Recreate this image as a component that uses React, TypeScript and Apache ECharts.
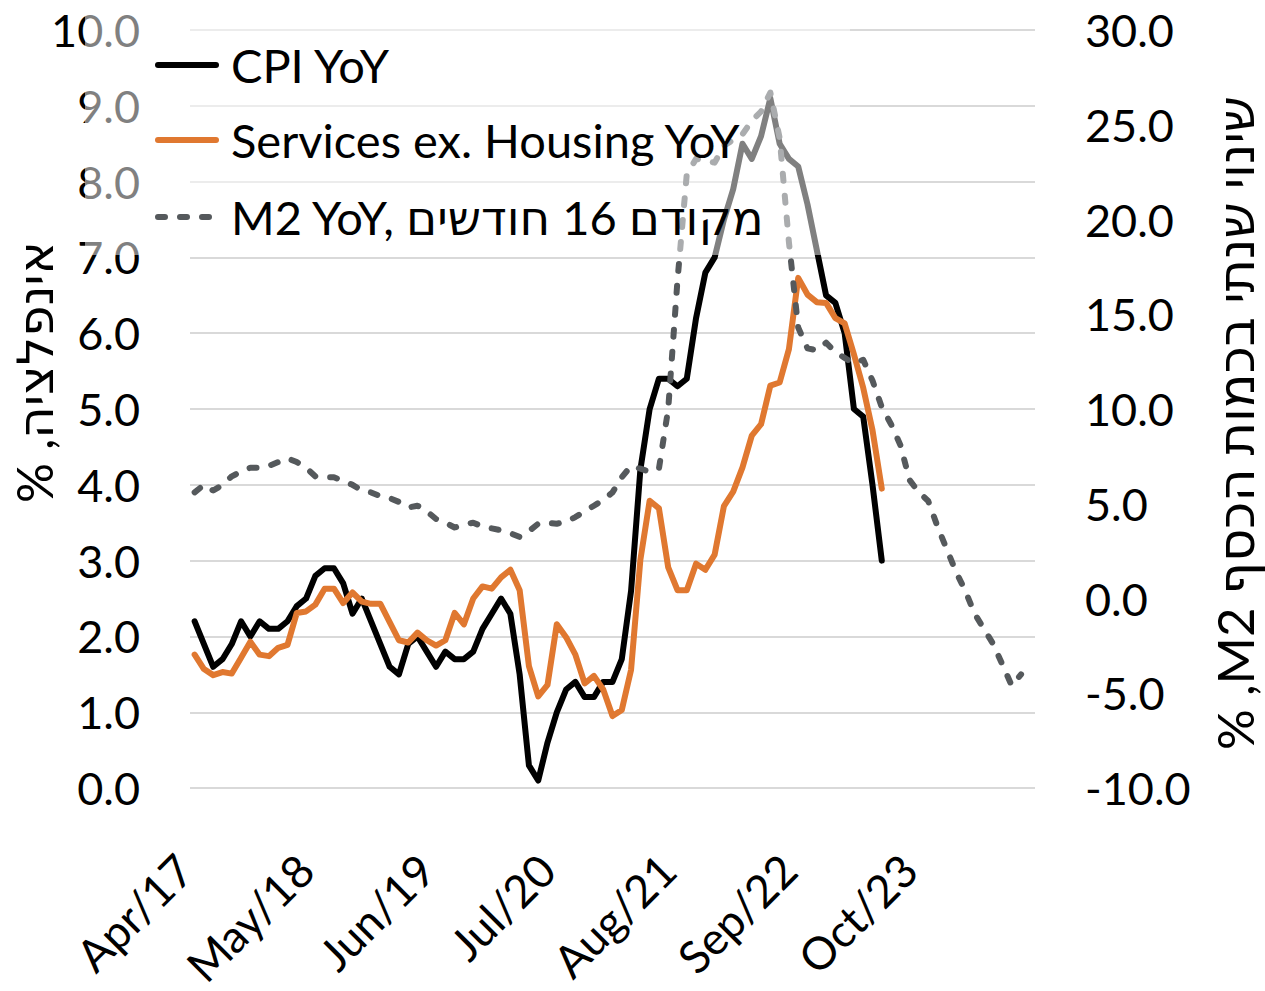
import React, { useEffect, useRef } from "react";
import * as echarts from "echarts";

const MONTHS = ["Jan", "Feb", "Mar", "Apr", "May", "Jun", "Jul", "Aug", "Sep", "Oct", "Nov", "Dec"];
// Monthly categories Apr/17 .. Oct/24
const categories: string[] = [];
for (let k = 0; k < 91; k++) {
  const m = (3 + k) % 12;
  const y = 17 + Math.floor((3 + k) / 12);
  categories.push(`${MONTHS[m]}/${y}`);
}

// CPI YoY, % (Apr/17 .. Jun/23)
const cpiYoY = [
  2.2, 1.9, 1.6, 1.7, 1.9, 2.2, 2.0, 2.2, 2.1,
  2.1, 2.2, 2.4, 2.5, 2.8, 2.9, 2.9, 2.7, 2.3, 2.5, 2.2, 1.9,
  1.6, 1.5, 1.9, 2.0, 1.8, 1.6, 1.8, 1.7, 1.7, 1.8, 2.1, 2.3,
  2.5, 2.3, 1.5, 0.3, 0.1, 0.6, 1.0, 1.3, 1.4, 1.2, 1.2, 1.4,
  1.4, 1.7, 2.6, 4.2, 5.0, 5.4, 5.4, 5.3, 5.4, 6.2, 6.8, 7.0,
  7.5, 7.9, 8.5, 8.3, 8.6, 9.1, 8.5, 8.3, 8.2, 7.7, 7.1, 6.5,
  6.4, 6.0, 5.0, 4.9, 4.0, 3.0,
];

// Services ex. Housing YoY, % (Apr/17 .. Jun/23)
const servicesExHousing = [
  1.76, 1.57, 1.49, 1.53, 1.51, 1.72, 1.93, 1.76, 1.74, 1.85,
  1.89, 2.31, 2.33, 2.42, 2.63, 2.63, 2.44, 2.58, 2.46, 2.43,
  2.43, 2.19, 1.95, 1.92, 2.05, 1.95, 1.88, 1.95, 2.31, 2.16,
  2.50, 2.66, 2.63, 2.78, 2.88, 2.61, 1.61, 1.21, 1.36, 2.16,
  1.99, 1.76, 1.38, 1.48, 1.30, 0.95, 1.03, 1.56, 3.01, 3.79,
  3.69, 2.91, 2.61, 2.61, 2.96, 2.88, 3.08, 3.72, 3.91, 4.23,
  4.65, 4.80, 5.31, 5.35, 5.79, 6.73, 6.51, 6.41, 6.40, 6.20,
  6.13, 5.72, 5.28, 4.72, 3.95,
];

// M2 YoY, % led 16 months (right axis), Apr/17 .. Sep/24
const m2YoYLed = [
  5.6, 6.0, 5.7, 6.0, 6.45, 6.7, 6.9, 6.9, 7.0, 7.2,
  7.4, 7.2, 6.9, 6.45, 6.4, 6.4, 6.2, 6.0, 5.7, 5.6,
  5.4, 5.3, 5.1, 4.8, 4.9, 4.6, 4.2, 4.0, 3.75, 3.9,
  4.0, 3.8, 3.7, 3.6, 3.45, 3.25, 3.55, 3.95, 4.0, 3.95,
  4.05, 4.3, 4.6, 4.9, 5.2, 5.6, 6.4, 7.0, 6.85, 6.7,
  6.85, 10.0, 16.8, 22.4, 23.2, 23.1, 23.0, 23.9, 24.2, 24.5,
  25.2, 25.7, 26.7, 24.3, 18.8, 14.3, 13.2, 13.1, 13.5, 13.0,
  12.7, 12.4, 12.6, 11.5, 10.1, 9.2, 8.1, 6.25, 5.6, 5.15,
  3.8, 2.6, 1.4, 0.4, -0.8, -1.6, -2.4, -3.5, -4.6, -4.0,
];

const legendLabels = ["CPI YoY", "Services ex. Housing YoY", "M2 YoY, מקודם 16 חודשים"];
const leftTitle = "\u202Bאינפלציה, %\u202C";
const rightTitle = "\u202Bשינוי שנתי בכמות הכסף M2, %\u202C";

const FONT = "Lato, 'DejaVu Sans', sans-serif";
const BLACK = "#000000";
const ORANGE = "#E07830";
const GREY = "#55595C";
const LW = 6;
const DASH = [7, 15];

export default function App() {
  const ref = useRef<HTMLDivElement>(null);
  useEffect(() => {
    if (!ref.current) return;
    const chart = echarts.init(ref.current, undefined, { renderer: "svg" });
    const legendColors = [BLACK, ORANGE, GREY];
    const legendY = [65, 140, 217];
    const legendGraphics: any[] = [];
    legendLabels.forEach((label, i) => {
      legendGraphics.push({
        type: "line",
        z: 101,
        shape: { x1: 158, y1: legendY[i], x2: 216, y2: legendY[i] },
        style: {
          stroke: legendColors[i],
          lineWidth: LW,
          lineCap: "round",
          lineDash: i === 2 ? DASH : null,
        },
      });
      legendGraphics.push({
        type: "text",
        z: 101,
        x: 231,
        y: legendY[i],
        style: {
          text: label,
          font: `47px ${FONT}`,
          fill: "#000",
          align: "left",
          verticalAlign: "middle",
        },
      });
    });
    chart.setOption({
      animation: false,
      backgroundColor: "#ffffff",
      grid: { left: 190, right: 230, top: 30, bottom: 174, containLabel: false },
      xAxis: {
        type: "category",
        data: categories,
        boundaryGap: true,
        axisLine: { show: false },
        axisTick: { show: false },
        splitLine: { show: false },
        axisLabel: {
          interval: 12,
          rotate: 45,
          margin: 64,
          padding: [0, 14, 0, 0],
          fontSize: 45,
          fontFamily: FONT,
          color: "#000",
        },
      },
      yAxis: [
        {
          type: "value",
          min: 0,
          max: 10,
          interval: 1,
          axisLine: { show: false },
          axisTick: { show: false },
          splitLine: { lineStyle: { color: "#d9d9d9", width: 2 } },
          axisLabel: {
            margin: 50,
            fontSize: 45,
            fontFamily: FONT,
            color: "#000",
            formatter: (v: number) => v.toFixed(1),
          },
        },
        {
          type: "value",
          position: "right",
          min: -10,
          max: 30,
          interval: 5,
          axisLine: { show: false },
          axisTick: { show: false },
          splitLine: { show: false },
          axisLabel: {
            margin: 50,
            fontSize: 45,
            fontFamily: FONT,
            color: "#000",
            formatter: (v: number) => v.toFixed(1),
          },
        },
      ],
      series: [
        {
          name: legendLabels[0],
          type: "line",
          data: cpiYoY,
          yAxisIndex: 0,
          symbol: "none",
          z: 3,
          lineStyle: { color: BLACK, width: LW, join: "round", cap: "round" },
        },
        {
          name: legendLabels[1],
          type: "line",
          data: servicesExHousing,
          yAxisIndex: 0,
          symbol: "none",
          z: 4,
          lineStyle: { color: ORANGE, width: LW, join: "round", cap: "round" },
        },
        {
          name: legendLabels[2],
          type: "line",
          data: m2YoYLed,
          yAxisIndex: 1,
          symbol: "none",
          z: 5,
          lineStyle: { color: GREY, width: LW, type: DASH, cap: "round", join: "round" },
        },
      ],
      graphic: [
        {
          type: "rect",
          z: 100,
          shape: { x: 85, y: 8, width: 765, height: 247 },
          style: { fill: "rgba(255,255,255,0.5)" },
        },
        ...legendGraphics,
        {
          type: "text",
          z: 101,
          x: 34,
          y: 372,
          rotation: Math.PI / 2,
          style: {
            text: leftTitle,
            font: `50px ${FONT}`,
            fill: "#000",
            align: "center",
            verticalAlign: "middle",
          },
        },
        {
          type: "text",
          z: 101,
          x: 1234,
          y: 423,
          rotation: Math.PI / 2,
          style: {
            text: rightTitle,
            font: `51px ${FONT}`,
            fill: "#000",
            align: "center",
            verticalAlign: "middle",
          },
        },
      ],
    });
    return () => chart.dispose();
  }, []);
  return (
    <div
      ref={ref}
      style={{ position: "absolute", left: 0, top: 0, width: 1265, height: 991 }}
    />
  );
}
